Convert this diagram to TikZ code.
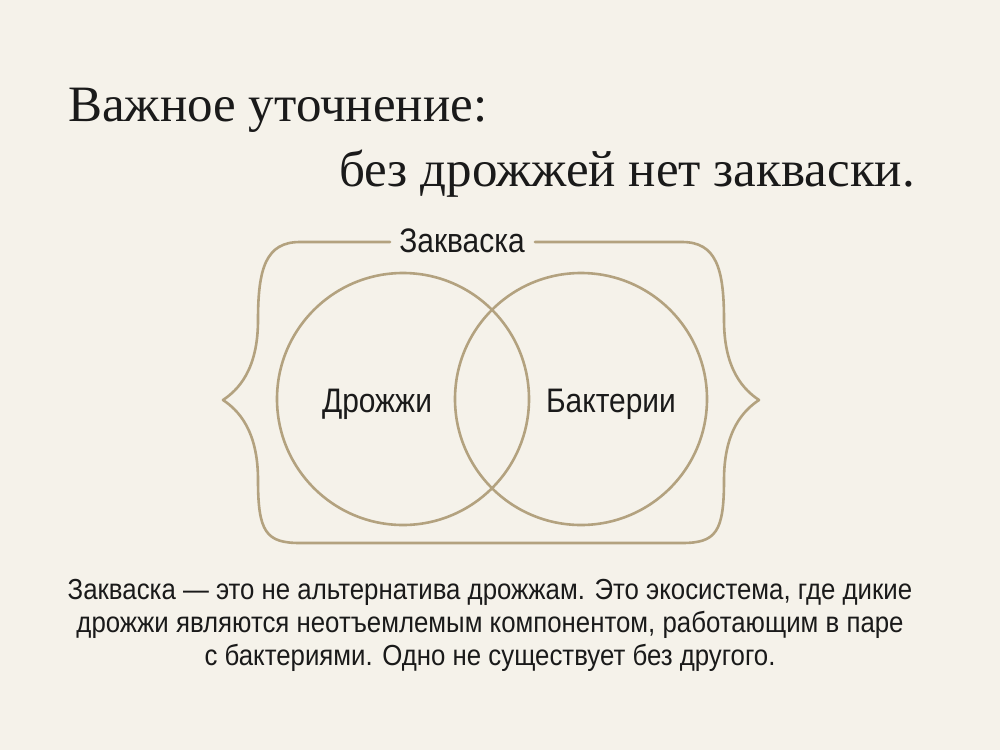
\documentclass[tikz,border=0pt]{standalone}
\usepackage{fontspec}
\setmainfont{Liberation Serif}
\newfontfamily\labelfont[FakeStretch=0.88]{Liberation Sans}
\newfontfamily\notefont[FakeStretch=0.89]{Liberation Sans}
\definecolor{paper}{HTML}{F5F2EA}
\definecolor{brass}{HTML}{B3A27F}
\definecolor{ink}{HTML}{1A1A1A}

\begin{document}
\begin{tikzpicture}[x=1pt,y=-1pt,
    ring/.style={draw=brass,line width=2.6pt,line cap=round,line join=round},
    tag/.style={text=ink,inner sep=0pt,font=\labelfont\fontsize{34}{34}\selectfont},
    headline/.style={text=ink,inner sep=0pt,font=\fontsize{51}{51}\selectfont}]

    % Background
    \fill[paper] (0,0) rectangle (1000,750);
    \useasboundingbox (0,0) rectangle (1000,750);

    % Title
    \node[headline,anchor=base west] (title1) at (68,121) {Важное уточнение:};
    \node[headline,anchor=base east] (title2) at (915,186) {без дрожжей нет закваски.};

    % Brace round both circles
    \draw[ring] (390,242) -- (300,242)
        .. controls (266,242) and (258,268) .. (258,320)
        .. controls (258,370) and (238,390) .. (223,400)
        .. controls (238,410) and (258,430) .. (258,480)
        .. controls (258,532) and (266,543) .. (300,543)
        -- (682,543)
        .. controls (716,543) and (724,532) .. (724,480)
        .. controls (724,430) and (744,410) .. (759,400)
        .. controls (744,390) and (724,370) .. (724,320)
        .. controls (724,268) and (716,242) .. (682,242)
        -- (535,242);
    \node[tag,anchor=base] (sourdough) at (462,252) {Закваска};

    % Circles
    \draw[ring] (403,399) circle[radius=126pt];
    \draw[ring] (581,399) circle[radius=126pt];
    \node[tag,anchor=base] (yeast) at (377,412) {Дрожжи};
    \node[tag,anchor=base] (bacteria) at (611,412) {Бактерии};

    % Note
    \node[anchor=north,inner sep=0pt,text=ink,align=center,font=\notefont\fontsize{29}{33}\selectfont] (note) at (490,579)
        {Закваска — это не альтернатива дрожжам. Это экосистема, где дикие\\
         дрожжи являются неотъемлемым компонентом, работающим в паре\\
         с бактериями. Одно не существует без другого.};

\end{tikzpicture}
\end{document}
